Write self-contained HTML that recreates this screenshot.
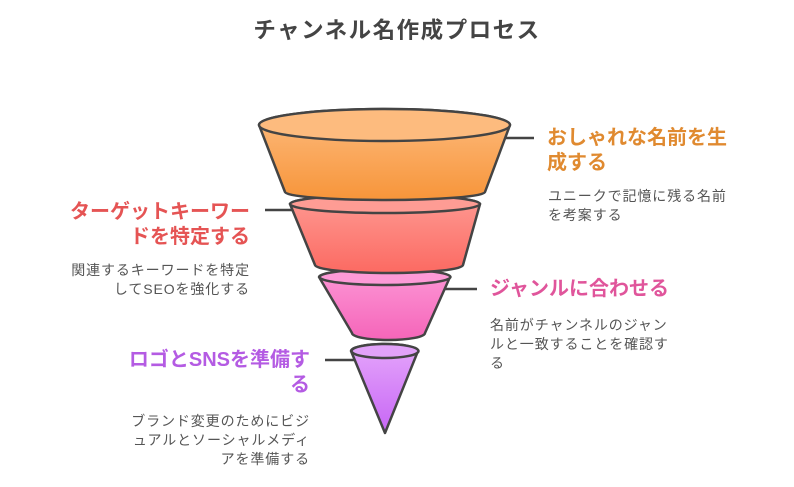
<!DOCTYPE html>
<html><head><meta charset="utf-8"><style>
body{margin:0;background:#fff;width:794px;height:482px;overflow:hidden}
text{font-family:"Liberation Sans","Noto Sans CJK JP",sans-serif}
.l{font-size:20px;font-weight:bold}
.d{font-size:14px;fill:#555;letter-spacing:0.9px}
</style></head><body>
<svg width="794" height="482" viewBox="0 0 794 482" xmlns="http://www.w3.org/2000/svg">
<defs>
<linearGradient id="g1" x1="0" y1="0" x2="0" y2="1"><stop offset="0" stop-color="#fdbb7e"/><stop offset="1" stop-color="#f7953a"/></linearGradient>
<linearGradient id="g2" x1="0" y1="0" x2="0" y2="1"><stop offset="0" stop-color="#fe9a93"/><stop offset="1" stop-color="#fc6a62"/></linearGradient>
<linearGradient id="g3" x1="0" y1="0" x2="0" y2="1"><stop offset="0" stop-color="#fd97d6"/><stop offset="1" stop-color="#f565b9"/></linearGradient>
<linearGradient id="g4" x1="0" y1="0" x2="0" y2="1"><stop offset="0" stop-color="#e5a6fb"/><stop offset="1" stop-color="#c766f5"/></linearGradient>
</defs>
<text x="397" y="38" text-anchor="middle" font-size="22.5" font-weight="bold" fill="#444" letter-spacing="1.5">チャンネル名作成プロセス</text>
<g stroke="#444" stroke-width="2.5">
<line x1="505" y1="138" x2="534" y2="138"/>
<line x1="265" y1="210" x2="294" y2="210"/>
<line x1="445" y1="289" x2="477" y2="289"/>
<line x1="325" y1="360" x2="355" y2="360"/>
</g>
<g stroke="#444" stroke-width="2.5" stroke-linejoin="round">
<path d="M351 351 L385 433 L418 351 A33.5 7 0 0 0 351 351 Z" fill="url(#g4)"/>
<ellipse cx="385" cy="351" rx="33.5" ry="7" fill="#e2a2f9"/>
<path d="M319 277 L352 333 A36.5 7 0 0 0 425 333 L450 277 A65.5 8 0 0 0 319 277 Z" fill="url(#g3)"/>
<ellipse cx="385" cy="277" rx="65.5" ry="8" fill="#fd9ad7"/>
<path d="M290 204 L315 265 A74 8 0 0 0 463 265 L480 204 A95 9 0 0 0 290 204 Z" fill="url(#g2)"/>
<ellipse cx="385" cy="204" rx="95" ry="9" fill="#fe9c94"/>
<path d="M259 125 L285 192 A100 8 0 0 0 485 192 L510 125 A125.5 16 0 0 0 259 125 Z" fill="url(#g1)"/>
<ellipse cx="384.5" cy="125" rx="125.5" ry="16" fill="#fdbb7e"/>
</g>
<text class="l" fill="#e08a30" x="547" y="144">おしゃれな名前を生</text>
<text class="l" fill="#e08a30" x="547" y="169">成する</text>
<text class="d" x="548" y="201">ユニークで記憶に残る名前</text>
<text class="d" x="548" y="220">を考案する</text>
<text class="l" fill="#e55454" x="250" y="218" text-anchor="end">ターゲットキーワー</text>
<text class="l" fill="#e55454" x="250" y="243" text-anchor="end">ドを特定する</text>
<text class="d" x="250" y="275" text-anchor="end">関連するキーワードを特定</text>
<text class="d" x="250" y="294" text-anchor="end">してSEOを強化する</text>
<text class="l" fill="#e0559b" x="490" y="295">ジャンルに合わせる</text>
<text class="d" x="490" y="330">名前がチャンネルのジャン</text>
<text class="d" x="490" y="349">ルと一致することを確認す</text>
<text class="d" x="490" y="368">る</text>
<text class="l" fill="#b45be3" x="310" y="366" text-anchor="end">ロゴとSNSを準備す</text>
<text class="l" fill="#b45be3" x="310" y="391" text-anchor="end">る</text>
<text class="d" x="310" y="426" text-anchor="end">ブランド変更のためにビジ</text>
<text class="d" x="310" y="445" text-anchor="end">ュアルとソーシャルメディ</text>
<text class="d" x="310" y="464" text-anchor="end">アを準備する</text>
</svg>
</body></html>
